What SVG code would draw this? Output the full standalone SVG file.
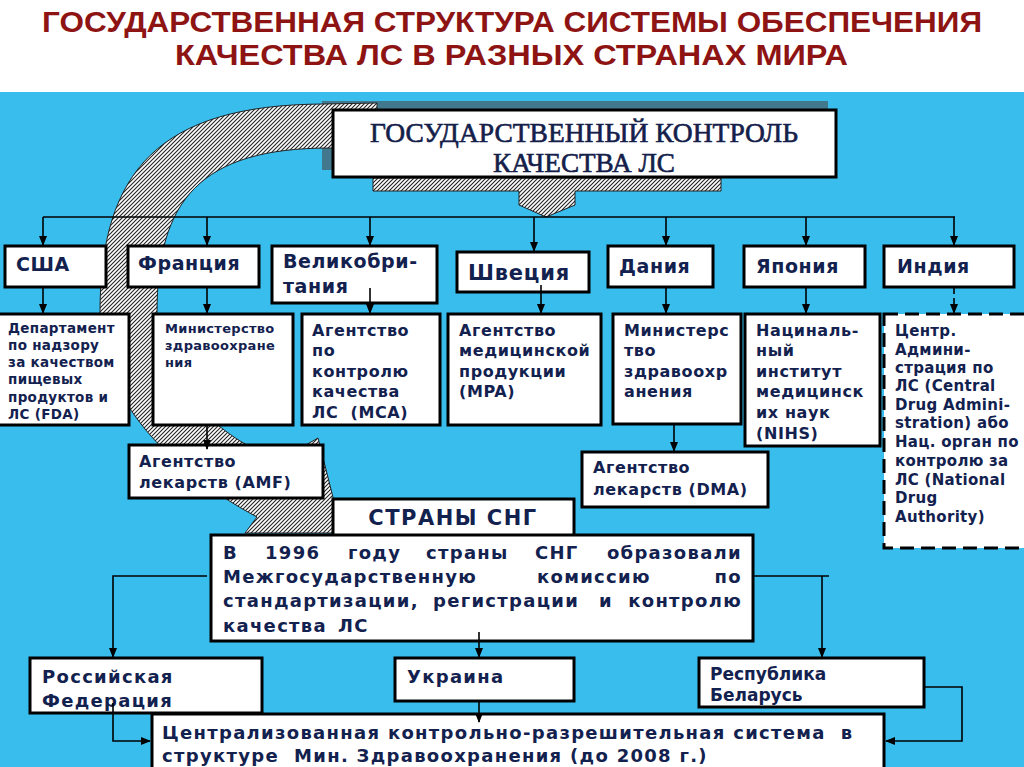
<svg xmlns="http://www.w3.org/2000/svg" width="1024" height="767" viewBox="0 0 1024 767">
<defs>
<style>
.box{fill:#fff;stroke:#000;stroke-width:3}
.dbox{fill:#fff;stroke:#000;stroke-width:3;stroke-dasharray:14 7}
.t{font-family:"DejaVu Sans",Verdana,sans-serif;font-weight:bold;fill:#13214F}
.c19{font-size:19px;letter-spacing:0.6px}
.c16{font-size:16px;letter-spacing:0.6px}
.c15{font-size:15px;letter-spacing:0.3px}
.c13{font-size:13.5px;letter-spacing:0.3px}
.c18{font-size:18px;letter-spacing:1.3px}
.title{font-family:"Liberation Sans",Arial,sans-serif;font-weight:bold;font-size:29px;fill:#8E1414}
.serif{font-family:"Liberation Serif","Times New Roman",serif;font-size:27px;fill:#14204A;stroke:#14204A;stroke-width:0.6}
.ln{fill:none;stroke:#000;stroke-width:1.6}
.arr{fill:none;stroke:#000;stroke-width:1.6;marker-end:url(#ah)}
.hatch{fill:url(#hp);stroke:#222;stroke-width:1}
</style>
<pattern id="hp" width="4" height="4" patternUnits="userSpaceOnUse">
<rect width="4" height="4" fill="#fff"/>
<path d="M0,4 L4,0 M-1,1 L1,-1 M3,5 L5,3" stroke="#222" stroke-width="1.1"/>
</pattern>
<marker id="ah" markerWidth="10" markerHeight="8" refX="9" refY="4" orient="auto" markerUnits="userSpaceOnUse">
<path d="M0,0 L10,4 L0,8 Z" fill="#000"/>
</marker>
</defs>

<rect x="0" y="0" width="1024" height="767" fill="#fff"/>
<rect x="0" y="92" width="1024" height="675" fill="#38BDEC"/>

<g id="title">
<text class="title" x="42" y="32" textLength="940" lengthAdjust="spacingAndGlyphs">ГОСУДАРСТВЕННАЯ СТРУКТУРА СИСТЕМЫ ОБЕСПЕЧЕНИЯ</text>
<text class="title" x="175" y="65" textLength="673" lengthAdjust="spacingAndGlyphs">КАЧЕСТВА ЛС В РАЗНЫХ СТРАНАХ МИРА</text>
</g>

<g id="main-shadow">
<rect x="322" y="101" width="506" height="69" fill="#41788E"/>
</g>

<g id="band-arrow">
<path class="hatch" d="M377,103 L323,104 C160,105 100,170 100,313 C100,400 170,470 257,517 L245,533 L342,533 L318,438 L280,460 C220,440 157,380 157,313 C157,200 200,148 330,148 L377,148 Z"/>
</g>

<g id="n-main">
<path class="hatch" d="M373,178 H721 V191 H575 V205 L546,217 L519,205 V191 H373 Z"/>
<rect class="box" x="333" y="110" width="503" height="67"/>
<text class="serif" x="584" y="142" text-anchor="middle" textLength="428" lengthAdjust="spacingAndGlyphs">ГОСУДАРСТВЕННЫЙ КОНТРОЛЬ</text>
<text class="serif" x="584" y="172" text-anchor="middle" textLength="182" lengthAdjust="spacingAndGlyphs">КАЧЕСТВА ЛС</text>
</g>

<g id="n-usa"><rect class="box" x="5" y="246" width="101" height="41"/><text class="t c19" x="16" y="271">США</text></g>
<g id="n-france"><rect class="box" x="128" y="246" width="131" height="41"/><text class="t c19" x="138" y="270">Франция</text></g>
<g id="n-uk"><rect class="box" x="272" y="246" width="165" height="57"/><text class="t c19" x="283" y="268">Великобри-</text><text class="t c19" x="283" y="293">тания</text></g>
<g id="n-sweden"><rect class="box" x="457" y="252" width="132" height="40"/><text class="t" style="font-size:21px;letter-spacing:0.8px" x="468" y="280">Швеция</text></g>
<g id="n-denmark"><rect class="box" x="608" y="246" width="105" height="41"/><text class="t c19" x="619" y="273">Дания</text></g>
<g id="n-japan"><rect class="box" x="744" y="246" width="121" height="41"/><text class="t c19" x="756" y="273">Япония</text></g>
<g id="n-india"><rect class="box" x="884" y="246" width="130" height="41"/><text class="t c19" x="897" y="273">Индия</text></g>

<g id="n-fda"><rect class="box" x="-3" y="314" width="132" height="111"/>
<text class="t c13"><tspan x="8" y="333">Департамент</tspan><tspan x="8" y="350">по надзору</tspan><tspan x="8" y="367">за качеством</tspan><tspan x="8" y="384">пищевых</tspan><tspan x="8" y="402">продуктов и</tspan><tspan x="8" y="419">ЛС (FDA)</tspan></text></g>
<g id="n-fr-ministry"><rect class="box" x="153" y="314" width="140" height="111"/>
<text class="t" style="font-size:13px;letter-spacing:0.3px"><tspan x="165" y="333">Министерство</tspan><tspan x="165" y="350">здравоохране</tspan><tspan x="165" y="367">ния</tspan></text></g>
<g id="n-mca"><rect class="box" x="302" y="314" width="138" height="111"/>
<text class="t c16"><tspan x="312" y="336">Агентство</tspan><tspan x="312" y="356">по</tspan><tspan x="312" y="377">контролю</tspan><tspan x="312" y="397">качества</tspan><tspan x="312" y="418">ЛС&#160; (MCA)</tspan></text></g>
<g id="n-mpa"><rect class="box" x="448" y="314" width="153" height="111"/>
<text class="t c16"><tspan x="459" y="336">Агентство</tspan><tspan x="459" y="356">медицинской</tspan><tspan x="459" y="377">продукции</tspan><tspan x="459" y="397">(MPA)</tspan></text></g>
<g id="n-dk-ministry"><rect class="box" x="613" y="314" width="128" height="110"/>
<text class="t c16"><tspan x="624" y="336">Министерс</tspan><tspan x="624" y="356">тво</tspan><tspan x="624" y="377">здравоохр</tspan><tspan x="624" y="397">анения</tspan></text></g>
<g id="n-nihs"><rect class="box" x="745" y="314" width="135" height="132"/>
<text class="t c16"><tspan x="756" y="336">Нациналь-</tspan><tspan x="756" y="356">ный</tspan><tspan x="756" y="377">институт</tspan><tspan x="756" y="397">медицинск</tspan><tspan x="756" y="418">их наук</tspan><tspan x="756" y="439">(NIHS)</tspan></text></g>
<g id="n-cdsco"><rect class="dbox" x="884" y="314" width="150" height="234"/>
<text class="t c15"><tspan x="895" y="336">Центр.</tspan><tspan x="895" y="355">Админи-</tspan><tspan x="895" y="373">страция по</tspan><tspan x="895" y="391">ЛС (Central</tspan><tspan x="895" y="410">Drug Admini-</tspan><tspan x="895" y="428">stration) або</tspan><tspan x="895" y="447">Нац. орган по</tspan><tspan x="895" y="466">контролю за</tspan><tspan x="895" y="485">ЛС (National</tspan><tspan x="895" y="503">Drug</tspan><tspan x="895" y="522">Authority)</tspan></text></g>

<g id="n-amf"><rect class="box" x="129" y="445" width="194" height="53"/>
<text class="t c16"><tspan x="139" y="467">Агентство</tspan><tspan x="139" y="488">лекарств (AMF)</tspan></text></g>
<g id="n-dma"><rect class="box" x="582" y="452" width="186" height="55"/>
<text class="t c16"><tspan x="593" y="473">Агентство</tspan><tspan x="593" y="495">лекарств (DMA)</tspan></text></g>

<g id="n-cis"><rect class="box" x="333" y="499" width="241" height="38"/>
<text class="t" style="font-size:21px;letter-spacing:1.5px" x="453" y="525" text-anchor="middle">СТРАНЫ СНГ</text></g>
<g id="n-1996"><rect class="box" x="211" y="535" width="542" height="106"/>
<text class="t c18" y="559"><tspan x="223">В</tspan><tspan x="265">1996</tspan><tspan x="348">году</tspan><tspan x="426">страны</tspan><tspan x="535">СНГ</tspan></text>
<text class="t c18" x="742" y="559" text-anchor="end">образовали</text>
<text class="t c18" y="583"><tspan x="223">Межгосударственную</tspan><tspan x="537">комиссию</tspan></text>
<text class="t c18" x="742" y="583" text-anchor="end">по</text>
<text class="t c18" y="607"><tspan x="223">стандартизации,</tspan><tspan x="433">регистрации</tspan><tspan x="599">и</tspan></text>
<text class="t c18" x="742" y="607" text-anchor="end">контролю</text>
<text class="t c18" y="632"><tspan x="223">качества</tspan><tspan x="338">ЛС</tspan></text>
</g>
<g id="n-russia"><rect class="box" x="30" y="658" width="232" height="55"/>
<text class="t c18"><tspan x="42" y="683">Российская</tspan><tspan x="42" y="707">Федерация</tspan></text></g>
<g id="n-ukraine"><rect class="box" x="395" y="658" width="179" height="43"/>
<text class="t c18" x="407" y="683">Украина</text></g>
<g id="n-belarus"><rect class="box" x="699" y="658" width="225" height="49"/>
<text class="t" style="font-size:17px"><tspan x="710" y="680">Республика</tspan><tspan x="710" y="701">Беларусь</tspan></text></g>
<g id="n-central"><rect class="box" x="152" y="714" width="732" height="70"/>
<text class="t c18"><tspan x="162" y="739">Централизованная контрольно-разрешительная система&#160; в</tspan><tspan x="162" y="762">структуре&#160; Мин. Здравоохранения (до 2008 г.)</tspan></text></g>

<g id="connectors">
<line class="ln" x1="43" y1="217" x2="955" y2="217"/>
<line class="arr" x1="43" y1="217" x2="43" y2="245"/>
<line class="arr" x1="207" y1="217" x2="207" y2="245"/>
<line class="arr" x1="370" y1="217" x2="370" y2="245"/>
<line class="arr" x1="534" y1="217" x2="534" y2="251"/>
<line class="arr" x1="666" y1="217" x2="666" y2="245"/>
<line class="arr" x1="806" y1="217" x2="806" y2="245"/>
<line class="arr" x1="954" y1="217" x2="954" y2="245"/>
<line class="arr" x1="43" y1="288" x2="43" y2="313"/>
<line class="arr" x1="207" y1="288" x2="207" y2="313"/>
<line class="arr" x1="370" y1="288" x2="370" y2="313"/>
<line class="arr" x1="541" y1="285" x2="541" y2="313"/>
<line class="arr" x1="666" y1="288" x2="666" y2="313"/>
<line class="arr" x1="806" y1="288" x2="806" y2="313"/>
<line class="arr" x1="954" y1="288" x2="954" y2="313" stroke-dasharray="6 4"/>
<line class="arr" x1="207" y1="426" x2="207" y2="449"/>
<line class="arr" x1="674" y1="425" x2="674" y2="451"/>
<path class="arr" d="M207,576 H113 V657"/>
<path class="ln" d="M753,576 H829"/>
<line class="arr" x1="822" y1="576" x2="822" y2="657"/>
<line class="arr" x1="479" y1="632" x2="479" y2="657"/>
<line class="arr" x1="479" y1="701" x2="479" y2="722"/>
<path class="arr" d="M113,703 V741 H150"/>
<path class="arr" d="M924,687 H962 V741 H886"/>
</g>
</svg>
